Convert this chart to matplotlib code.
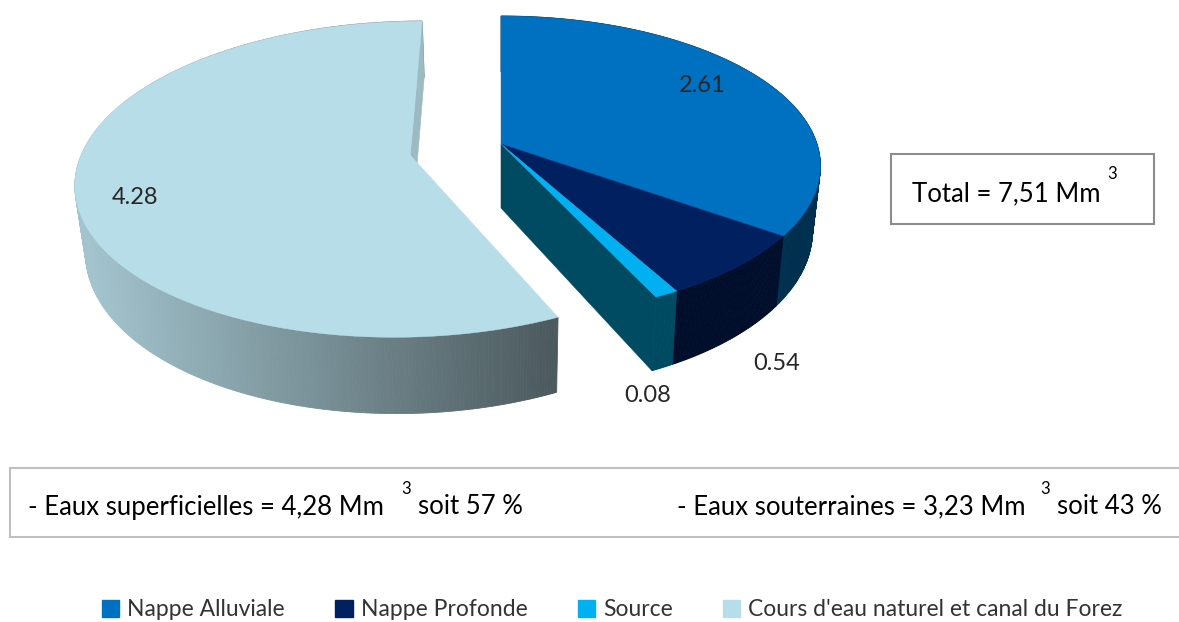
import numpy as np
import matplotlib
matplotlib.use('Agg')
import matplotlib.pyplot as plt
from matplotlib.patches import Polygon, Patch, Rectangle
from matplotlib.colors import to_rgb

categories = ['Nappe Alluviale', 'Nappe Profonde', 'Source', "Cours d'eau naturel et canal du Forez"]
values = [2.61, 0.54, 0.08, 4.28]
top_colors = ['#0070c0', '#002060', '#00b0f0', '#b7dde8']
side_colors = ['#00304f', '#000d2b', '#004a62']
label_pos = [(702, 86), (777, 364), (648, 395), (135, 197)]

# perspective of the pie, in pixels of the picture
cx, cy = 501, 144
rx, ry = 316, 146.7
persp = 0.146
depth = 64
shrink = 0.025

plt.rcParams['font.family'] = ['Lato', 'DejaVu Sans']


def project(X, Y, Z=0.0):
    w = 1 + persp * Y
    x = cx + rx * X / w * (1 - shrink * Z)
    y = cy - ry * Y / w + depth * Z / w
    return np.column_stack([np.atleast_1d(x), np.atleast_1d(y)])


def rim(t0, t1, off, r):
    t = np.radians(np.linspace(t0, t1, max(int(abs(t1 - t0) * 2), 2)))
    return off[0] + r * np.sin(t), off[1] + r * np.cos(t)


def draw_outer(t0, t1, off, r, color=None):
    X, Y = rim(t0, t1, off, r)
    top = project(X, Y)
    bot = project(X, Y, 1.0)
    for i in range(len(X) - 1):
        c = color
        if c is None:
            # shaded side of the big slice, lighter on the left
            f = np.clip((top[i, 0] - 85) / (553 - 85), 0, 1)
            c = tuple(np.array(to_rgb('#a3c4ce')) * (1 - f) + np.array(to_rgb('#4c5a5e')) * f)
        ax.add_patch(Polygon([top[i], top[i + 1], bot[i + 1], bot[i]], fc=c, ec=c, lw=0.6))


def draw_wall(t, off, r, color):
    X, Y = rim(t, t, off, r)
    a = project(off[0], off[1])[0]
    a2 = project(off[0], off[1], 1.0)[0]
    ax.add_patch(Polygon([a, project(X[0], Y[0])[0], project(X[0], Y[0], 1.0)[0], a2],
                         fc=color, ec=color, lw=0.4))


def draw_top(t0, t1, off, r, color):
    X, Y = rim(t0, t1, off, r)
    pts = np.vstack([project(off[0], off[1]), project(X, Y)])
    ax.add_patch(Polygon(pts, fc=color, ec=color, lw=0.3))


fig = plt.figure(figsize=(11.79, 6.22), dpi=100)
ax = fig.add_axes([0, 0, 1, 1])
ax.set_xlim(0, 1179)
ax.set_ylim(622, 0)
ax.axis('off')

angles = np.concatenate([[0], np.cumsum(values) / np.sum(values) * 360])
off_right = (0.0, 0.0)
off_left = (-0.284, -0.075)
r_left = 1.03

# big slice pulled out to the left
draw_outer(angles[3], angles[4], off_left, r_left)
draw_wall(angles[4], off_left, r_left, '#9dbac3')
draw_top(angles[3], angles[4], off_left, r_left, top_colors[3])

# group of the three small slices
draw_wall(angles[3], off_right, 1.0, side_colors[2])
for i in range(3):
    draw_outer(angles[i], angles[i + 1], off_right, 1.0, side_colors[i])
for i in range(3):
    draw_top(angles[i], angles[i + 1], off_right, 1.0, top_colors[i])

for v, (x, y) in zip(values, label_pos):
    ax.text(x, y, '%.2f' % v, ha='center', va='center', fontsize=17, color='#262626')

# text boxes
ax.add_patch(Rectangle((891, 154), 263, 70, fc='white', ec='#8c8c8c', lw=1.5))
ax.text(912, 194, 'Total = 7,51 Mm', ha='left', va='center', fontsize=18.5, color='black')
ax.text(1112, 174, '3', ha='center', va='center', fontsize=12, color='black')

ax.add_patch(Rectangle((10, 468), 1180, 69, fc='white', ec='#bfbfbf', lw=1.5))
ax.text(28, 507, '- Eaux superficielles = 4,28 Mm', ha='left', va='center', fontsize=18.5, color='black')
ax.text(406, 489, '3', ha='center', va='center', fontsize=12, color='black')
ax.text(418, 507, 'soit 57 %', ha='left', va='center', fontsize=18.5, color='black')
ax.text(677, 507, '- Eaux souterraines = 3,23 Mm', ha='left', va='center', fontsize=18.5, color='black')
ax.text(1045, 489, '3', ha='center', va='center', fontsize=12, color='black')
ax.text(1057, 507, 'soit 43 %', ha='left', va='center', fontsize=18.5, color='black')

handles = [Patch(fc=c, ec=c) for c in top_colors]
ax.legend(handles, categories, loc='center', bbox_to_anchor=(612.5 / 1179, 1 - 610 / 622), ncol=4,
          frameon=False, fontsize=16.5, labelcolor='#333333', handlelength=0.75, handleheight=0.75,
          handletextpad=0.35, columnspacing=2.2, borderpad=0, borderaxespad=0)

fig.savefig('out.png', dpi=100)
